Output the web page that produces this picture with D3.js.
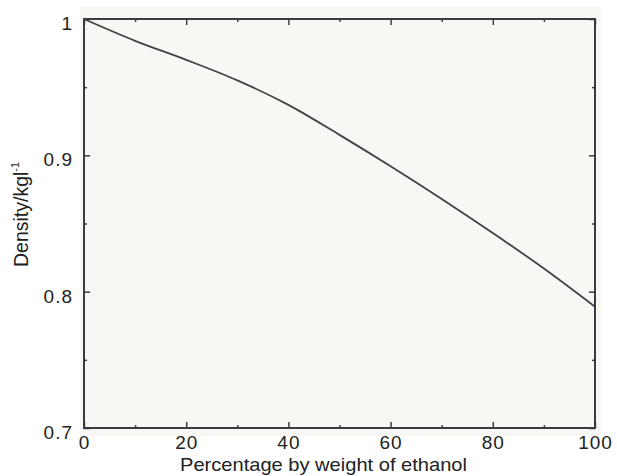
<!DOCTYPE html>
<html><head><meta charset="utf-8">
<script src="https://cdn.jsdelivr.net/npm/d3@7"></script>
<style>body{margin:0;background:#fff;}svg{display:block;}text{font-family:"Liberation Sans",Arial,sans-serif;fill:#222;}</style>
</head><body><svg id="c" width="617" height="476"></svg>
<script>
const percent = [0, 10, 20, 30, 40, 50, 60, 70, 80, 90, 100];
const density = [1.0, 0.984, 0.970, 0.955, 0.937, 0.915, 0.892, 0.868, 0.843, 0.817, 0.789];
const xTicks = [0, 20, 40, 60, 80, 100];
const xMinor = [10, 30, 50, 70, 90];
const yTicks = [0.7, 0.8, 0.9, 1];
const yMinor = [0.75, 0.85, 0.95];
const xTitle = "Percentage by weight of ethanol";

const svg = d3.select("#c");
const L = 84, R = 595, T = 19, B = 428;
const x = d3.scaleLinear().domain([0, 100]).range([L, R]);
const y = d3.scaleLinear().domain([0.7, 1]).range([B, T]);

svg.append("rect").attr("x", 80).attr("y", 7).attr("width", 521).attr("height", 429).attr("fill", "#f9f7f3");

const stroke = "#3a3d40";
function tickAxis(gen, tr, vals, len) {
  const g = svg.append("g").attr("transform", tr).call(gen.tickValues(vals).tickSize(len).tickFormat(""));
  g.select(".domain").remove();
  g.selectAll("line").attr("stroke", stroke).attr("stroke-width", 1.5);
  return g;
}
tickAxis(d3.axisTop(x), `translate(0,${B})`, xTicks, 6);
tickAxis(d3.axisTop(x), `translate(0,${B})`, xMinor, 3);
tickAxis(d3.axisBottom(x), `translate(0,${T})`, xTicks, 6);
tickAxis(d3.axisBottom(x), `translate(0,${T})`, xMinor, 3);
tickAxis(d3.axisRight(y), `translate(${L},0)`, yTicks, 6);
tickAxis(d3.axisRight(y), `translate(${L},0)`, yMinor, 3);
tickAxis(d3.axisLeft(y), `translate(${R},0)`, yTicks, 6);
tickAxis(d3.axisLeft(y), `translate(${R},0)`, yMinor, 3);

svg.append("rect").attr("x", L).attr("y", T).attr("width", R - L).attr("height", B - T)
  .attr("fill", "none").attr("stroke", stroke).attr("stroke-width", 2);

const xl = svg.append("g").attr("transform", `translate(0,${B})`)
  .call(d3.axisBottom(x).tickValues(xTicks).tickSize(0).tickPadding(0).tickFormat(d3.format("d")));
xl.select(".domain").remove();
xl.selectAll("text").attr("font-size", 19).attr("dy", null).attr("y", 21).attr("letter-spacing", 1)
  .attr("fill", "#222").style("font-family", "Liberation Sans, Arial, sans-serif");

const yl = svg.append("g").attr("transform", `translate(${L},0)`)
  .call(d3.axisLeft(y).tickValues(yTicks).tickSize(0).tickPadding(11).tickFormat(d => d === 1 ? "1" : d3.format(".1f")(d)));
yl.select(".domain").remove();
yl.selectAll("text").attr("font-size", 19).attr("dy", "0.55em").attr("letter-spacing", 1)
  .attr("fill", "#222").style("font-family", "Liberation Sans, Arial, sans-serif");

svg.append("path").datum(percent.map((p, i) => [p, density[i]]))
  .attr("fill", "none").attr("stroke", "#404346").attr("stroke-width", 1.8)
  .attr("d", d3.line().x(d => x(d[0])).y(d => y(d[1])).curve(d3.curveCatmullRom.alpha(0.5)));

svg.append("text").attr("x", 180).attr("y", 471).attr("text-anchor", "start")
  .attr("font-size", 19).attr("textLength", 287).attr("lengthAdjust", "spacingAndGlyphs").text(xTitle);

const yt = svg.append("text").attr("transform", "translate(28,267) rotate(-90)").attr("text-anchor", "start").attr("font-size", 19.5);
yt.append("tspan").text("Density/kgl");
yt.append("tspan").attr("font-size", 11).attr("dy", -9).text("-1");
</script></body></html>
